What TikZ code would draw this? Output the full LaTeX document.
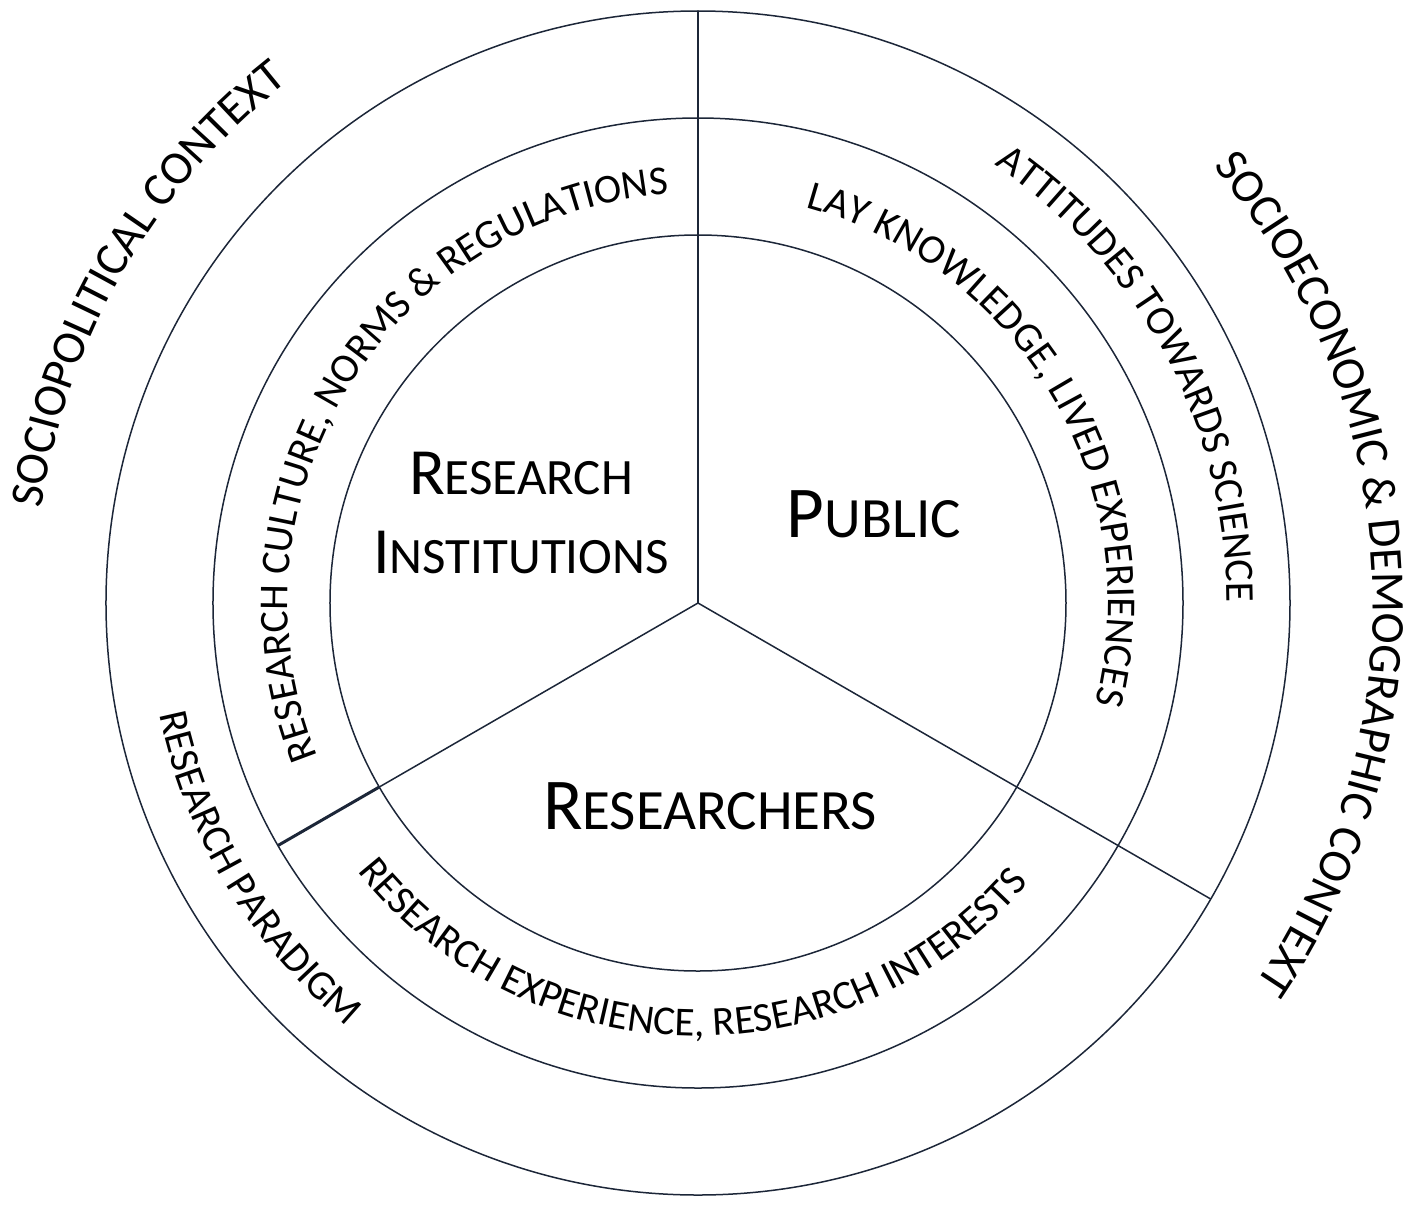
\documentclass[tikz,border=0pt]{standalone}
\usepackage{fontspec}
\setmainfont{Carlito}
\usetikzlibrary{decorations.text}
\definecolor{ln}{RGB}{28,38,56}
\newcommand\ctxfont{\fontsize{23.5}{28}\selectfont}
\newcommand\ringfont{\fontsize{20.5}{25}\selectfont}
\newcommand\scA[2]{{\fontsize{33}{39.5}\selectfont #1}{\fontsize{25.5}{39.5}\selectfont #2}}
\newcommand\scB[2]{{\fontsize{36.5}{42}\selectfont #1}{\fontsize{28.5}{42}\selectfont #2}}
\begin{document}
\begin{tikzpicture}[x=0.5pt,y=0.5pt,
  ringline/.style={draw=ln, line width=0.75pt},
  thickseg/.style={draw=ln, line width=1.5pt},
  ctrlabel/.style={inner sep=0pt, align=center, text=black}]
\useasboundingbox (-698,-603) rectangle (720,603);
% circles
\draw[ringline] (0,0) circle[radius=592];
\draw[ringline] (0,0) circle[radius=485];
\draw[ringline] (0,0) circle[radius=368];
% radial lines
\coordinate (c) at (0,0);
\coordinate (top) at (90:592);
\coordinate (lli) at (210:368);
\coordinate (ll) at (210:485);
\coordinate (lr) at (330:592);
\draw[ringline] (c) -- (top);
\draw[ringline] (c) -- (lli);
\draw[thickseg] (lli) -- (ll);
\draw[ringline] (c) -- (lr);
% centre labels
\node[ctrlabel, font=\fontsize{33}{39.5}\selectfont] (inst) at (-177,90) {\scA{R}{ESEARCH}\\\scA{I}{NSTITUTIONS}};
\node[ctrlabel] (pub) at (176,89) {\scB{P}{UBLIC}};
\node[ctrlabel] (res) at (12,-203) {\scB{R}{ESEARCHERS}};
% outer context texts
\path[decorate, decoration={text along path, text align=center,
  text={|\ctxfont|SOCIOPOLITICAL CONTEXT}}]
  (195:663) arc[start angle=195, end angle=105, radius=663];
\path[decorate, decoration={text along path, text align=center,
  text={|\ctxfont|SOCIOECONOMIC {\&} DEMOGRAPHIC CONTEXT}}]
  (60:675) arc[start angle=60, end angle=-54, radius=675];
% ring texts
\path[decorate, decoration={text along path, text align=center,
  text={|\ringfont|RESEARCH CULTURE{,} NORMS {\&} REGULATIONS}}]
  (213:410) arc[start angle=213, end angle=83, radius=410];
\path[decorate, decoration={text along path, text align=center,
  text={|\ringfont|LAY KNOWLEDGE{,} LIVED EXPERIENCES}}]
  (89.3:410) arc[start angle=89.3, end angle=-28.7, radius=410];
\path[decorate, decoration={text along path, text align=center,
  text={|\ringfont|ATTITUDES TOWARDS SCIENCE}}]
  (80:529) arc[start angle=80, end angle=-24, radius=529];
\path[decorate, decoration={text along path, text align=center,
  text={|\ringfont|RESEARCH PARADIGM}}]
  (176:550) arc[start angle=176, end angle=246, radius=550];
\path[decorate, decoration={text along path, text align=center,
  text={|\ringfont|RESEARCH EXPERIENCE{,} RESEARCH INTERESTS}}]
  (205:433) arc[start angle=205, end angle=333, radius=433];
\end{tikzpicture}
\end{document}
